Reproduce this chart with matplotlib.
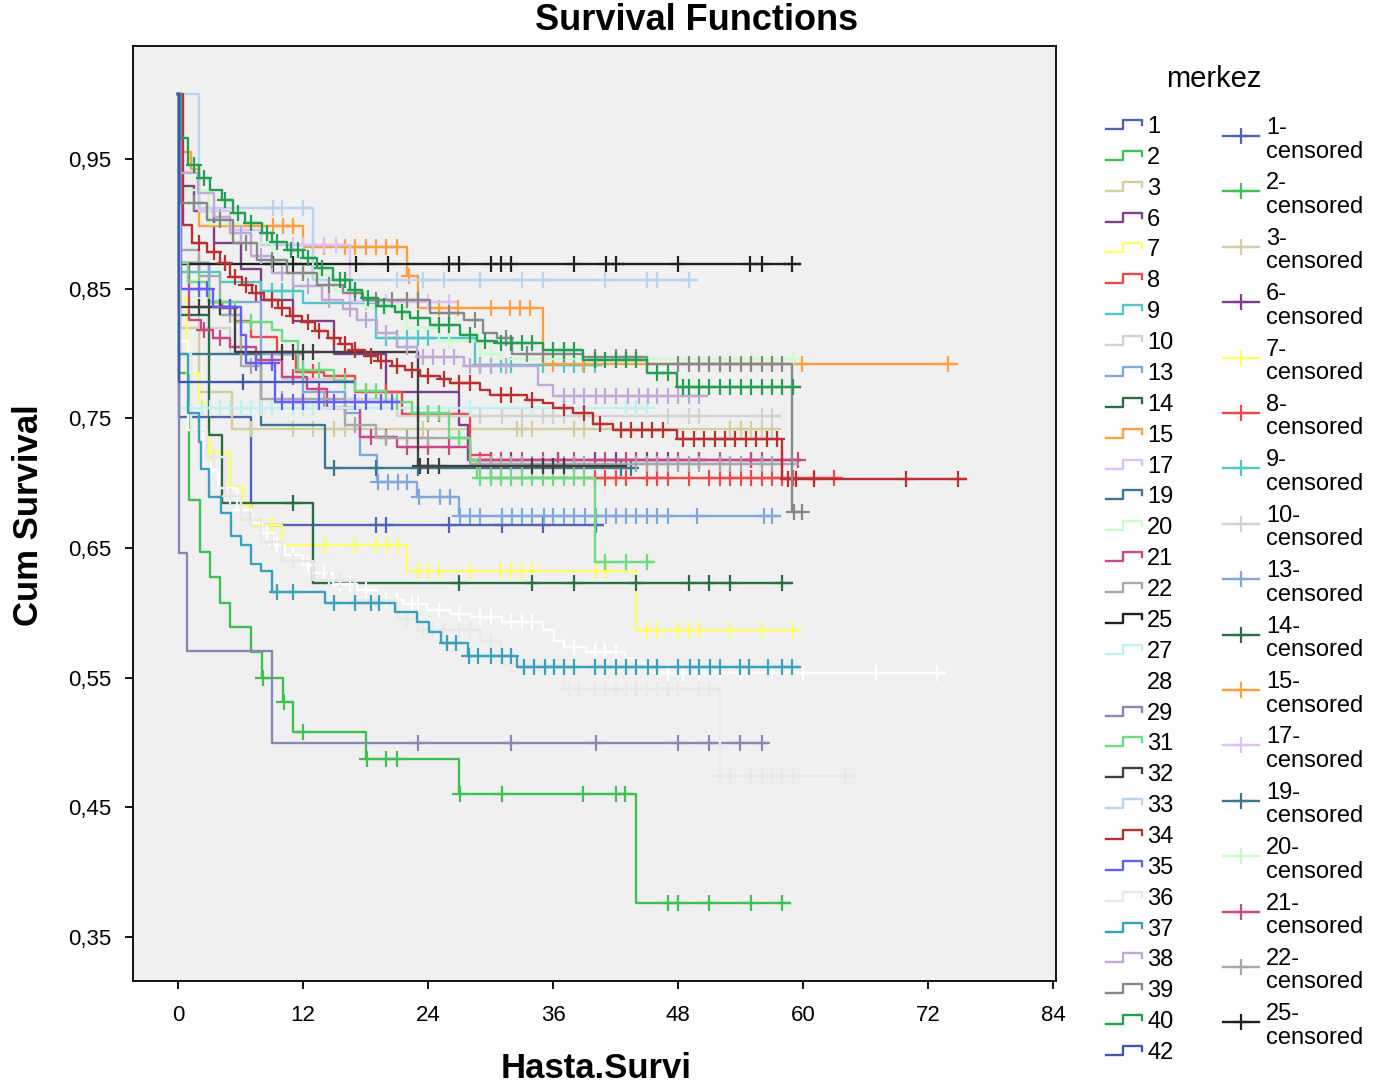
import numpy as np
import matplotlib.pyplot as plt
from matplotlib.lines import Line2D
from matplotlib.ticker import FuncFormatter

plt.rcParams['font.family'] = ['Liberation Sans', 'DejaVu Sans']

### centres and their colours (SPSS default cycle)
merkez = ['1', '2', '3', '6', '7', '8', '9', '10', '13', '14', '15', '17', '19', '20', '21', '22',
          '25', '27', '28', '29', '31', '32', '33', '34', '35', '36', '37', '38', '39', '40', '42']
colors = ['#5064b4', '#40c050', '#d4cfa0', '#7f3f8f', '#ffff66', '#f04848', '#50c8c8', '#d2d2d2',
          '#80a8dc', '#2a6e44', '#ffa040', '#e0c0f8', '#3a7890', '#c8ffc8', '#c84888', '#a8a8a8',
          '#202020', '#c0f0f0', '#ffffff', '#8888b8', '#6cdc80', '#404040', '#b8d4f0', '#b83030',
          '#6060ff', '#e8e8e8', '#3aa0c0', '#c0a8d8', '#888888', '#20a050', '#4058b0']

### event times, survival after each event, last follow-up, censored times (months)
t1 = [0.1, 7.0]
s1 = [0.751, 0.668]
end1 = 40.7
c1 = [19.0, 20.0, 26.0, 31.1, 35.0, 40.1]

t2 = [0.1, 1.06, 2.1, 3.1, 4.0, 5.0, 7.0, 8.1, 10.1, 11.0, 18.0, 27.0, 44.0]
s2 = [0.785, 0.687, 0.647, 0.628, 0.608, 0.589, 0.570, 0.550, 0.531, 0.508, 0.487, 0.460, 0.376]
end2 = 58.7
c2 = [8.2, 10.2, 12.0, 18.1, 20.0, 21.0, 27.1, 31.1, 38.9, 42.0, 42.9, 47.0, 48.0, 51.0, 55.0, 58.0]

t3 = [0.2, 2.0, 5.2]
s3 = [0.82, 0.77, 0.742]
end3 = 57.8
c3 = [7.0, 11.0, 13.0, 15.0, 16.0, 23.5, 32.5, 33.0, 34.0, 38.0, 39.0, 53.0, 54.0, 55.0, 56.0, 57.0]

t6 = [0.2, 1.5, 3.5, 6.0, 8.0, 11.0, 15.0, 20.0, 27.0, 27.8]
s6 = [0.929, 0.91, 0.885, 0.865, 0.841, 0.825, 0.80, 0.77, 0.745, 0.718]
end6 = 59.7
c6 = [30.0, 32.0, 36.5, 40.0, 42.0, 45.0, 47.0, 50.0, 55.0]

t7 = [0.1, 0.9, 2.0, 3.0, 5.0, 6.2, 7.0, 10.0, 22.0, 44.0]
s7 = [0.843, 0.785, 0.762, 0.723, 0.697, 0.683, 0.668, 0.652, 0.632, 0.587]
end7 = 59.7
c7 = [3.2, 8.0, 9.0, 14.1, 17.0, 19.0, 20.1, 21.1, 23.0, 24.0, 25.0, 28.0, 31.0, 32.0, 33.0, 34.0,
      40.1, 41.1, 45.0, 46.0, 48.0, 49.0, 50.0, 53.0, 56.0, 59.0]

t8 = [0.2, 3.0, 4.2, 5.5, 7.0, 9.5, 11.3, 14.0, 17.0, 21.5, 28.0, 30.0]
s8 = [0.87, 0.84, 0.835, 0.825, 0.813, 0.80, 0.786, 0.783, 0.77, 0.753, 0.722, 0.704]
end8 = 63.7
c8 = [2.0, 5.0, 10.0, 13.0, 16.0, 18.0, 20.0, 23.0, 24.0, 25.0, 40.0, 41.0, 42.0, 43.0, 45.0, 46.0,
      47.0, 49.0, 51.0, 52.0, 53.0, 54.0, 55.0, 56.0, 57.0, 58.0, 59.0, 61.0, 63.0]

t9 = [0.2, 4.0, 8.0, 12.0, 19.0, 28.5]
s9 = [0.863, 0.855, 0.848, 0.839, 0.812, 0.791]
end9 = 40.5
c9 = [9.0, 10.0, 11.0, 20.0, 21.0, 22.0, 23.0, 24.0, 29.0, 30.0, 31.0, 32.0, 35.0, 37.0, 38.0, 39.0, 40.0]

t10 = [0.2, 2.0, 5.0, 10.0, 16.0, 21.0]
s10 = [0.85, 0.82, 0.80, 0.78, 0.765, 0.752]
end10 = 57.8
c10 = [26.0, 29.0, 31.1, 33.0, 35.0, 36.0, 37.0, 47.0, 49.0, 50.0, 56.0, 57.0]

t13 = [0.2, 3.0, 8.0, 12.0, 16.0, 17.5, 19.1, 22.9, 27.0]
s13 = [0.87, 0.84, 0.80, 0.77, 0.754, 0.722, 0.701, 0.689, 0.675]
end13 = 57.8
c13 = [19.2, 20.2, 21.1, 22.0, 23.1, 25.1, 26.1, 27.1, 28.0, 29.0, 31.1, 32.1, 33.0, 34.0, 35.1, 36.0,
       37.0, 38.0, 39.1, 40.1, 41.1, 42.0, 43.0, 44.0, 45.0, 46.0, 47.0, 49.8, 56.2, 57.0]

t14 = [0.2, 3.0, 4.2, 13.0]
s14 = [0.83, 0.737, 0.685, 0.623]
end14 = 58.9
c14 = [11.0, 27.0, 34.0, 38.0, 44.0, 49.0, 51.0, 53.0, 58.0]

t15 = [0.2, 1.2, 2.0, 12.0, 22.0, 23.0, 35.0]
s15 = [0.955, 0.942, 0.898, 0.882, 0.860, 0.835, 0.792]
end15 = 74.8
c15 = [9.1, 10.1, 11.0, 13.0, 14.0, 16.0, 17.0, 18.0, 19.0, 20.0, 21.0, 22.2, 25.0, 26.9, 30.0, 31.9,
       32.8, 33.8, 36.0, 38.9, 45.0, 52.0, 55.0, 57.0, 59.9, 73.9]

t17 = [0.2, 2.0, 5.0, 8.0, 16.5]
s17 = [0.94, 0.91, 0.895, 0.884, 0.84]
end17 = 26.5
c17 = [11.0, 12.0, 13.0, 14.0, 15.2, 18.0, 20.0, 22.0, 24.0, 26.0]

t19 = [0.2, 8.0, 14.1]
s19 = [0.80, 0.745, 0.712]
end19 = 43.8
c19 = [15.0, 19.0, 23.0, 42.5, 43.5]

t20 = [0.2, 3.0, 6.0, 9.0, 12.0, 15.0, 18.0, 22.0, 25.0, 29.0, 31.0]
s20 = [0.926, 0.90, 0.885, 0.87, 0.86, 0.848, 0.836, 0.82, 0.81, 0.80, 0.796]
end20 = 59.7
c20 = [2.0, 5.0, 7.0, 10.0, 13.5, 17.0, 20.0, 26.0, 30.0, 45.0, 53.0, 55.0, 57.0, 59.0]

t21 = [0.2, 1.1, 2.2, 3.4, 5.0, 7.5, 10.0, 12.4, 14.3, 17.5, 21.0, 28.0]
s21 = [0.87, 0.826, 0.818, 0.812, 0.805, 0.795, 0.782, 0.773, 0.758, 0.736, 0.728, 0.718]
end21 = 59.7
c21 = [2.5, 4.0, 6.0, 9.0, 11.0, 13.5, 16.0, 18.5, 20.0, 22.0, 24.0, 26.0, 29.0, 31.0, 33.0, 35.0,
       36.5, 38.0, 41.0, 43.0, 44.0, 46.0, 48.0, 50.0, 52.0, 55.0, 56.0, 58.0, 59.5]

t22 = [0.3, 2.0, 4.0, 6.0, 8.0, 16.0, 19.0, 28.0]
s22 = [0.88, 0.86, 0.83, 0.79, 0.765, 0.745, 0.735, 0.715]
end22 = 59.5
c22 = [5.0, 7.0, 10.0, 12.0, 14.0, 17.0, 20.0, 22.0, 24.0, 29.0, 30.0, 31.0, 32.0, 33.0, 34.0, 35.0,
       37.0, 38.0, 39.0, 44.0, 45.0, 46.0, 47.0, 48.0, 49.0, 50.0, 52.0, 53.0, 54.0, 56.0, 57.0]

t25 = [0.1]
s25 = [0.869]
end25 = 59.7
c25 = [9.1, 11.0, 13.0, 17.1, 20.2, 26.0, 27.0, 30.0, 31.0, 32.0, 38.0, 41.1, 42.0, 48.0, 54.9, 56.0, 58.9]

t27 = [0.1]
s27 = [0.758]
end27 = 45.6
c27 = [1.0, 2.3, 3.1, 4.0, 5.0, 6.0, 7.0, 8.0, 9.0, 11.0, 12.0, 13.0, 28.0, 34.0, 43.0, 44.0, 45.0]

t28 = [0.1, 1.0, 2.4, 3.8, 5.7, 7.1, 8.1, 9.1, 10.3, 12.0, 13.0, 14.9, 17.2, 19.1, 21.6, 23.9, 26.1,
       28.1, 31.1, 35.0, 36.1, 37.0, 39.2, 42.9, 44.0, 45.3]
s28 = [0.810, 0.741, 0.710, 0.696, 0.679, 0.669, 0.662, 0.652, 0.645, 0.637, 0.631, 0.622, 0.618,
       0.610, 0.607, 0.602, 0.599, 0.597, 0.593, 0.587, 0.578, 0.574, 0.570, 0.565, 0.561, 0.554]
end28 = 73.6
c28 = [2.0, 3.2, 4.5, 6.0, 8.5, 9.5, 11.0, 12.5, 14.0, 15.5, 16.5, 18.0, 20.0, 21.0, 22.5, 23.0, 25.0,
       27.0, 29.0, 30.0, 32.0, 33.0, 34.0, 38.0, 40.0, 41.0, 42.0, 46.0, 47.0, 48.5, 50.0, 52.0, 54.0,
       57.0, 60.0, 67.0, 72.8]

t29 = [0.1, 0.9, 9.0]
s29 = [0.646, 0.571, 0.500]
end29 = 56.5
c29 = [23.0, 32.0, 40.1, 48.0, 51.0, 53.9, 56.0]

t31 = [0.2, 1.0, 3.0, 5.5, 9.0, 10.0, 11.5, 15.0, 17.0, 20.0, 22.5, 26.0, 28.0, 28.7, 40.0]
s31 = [0.87, 0.855, 0.84, 0.824, 0.818, 0.810, 0.787, 0.779, 0.771, 0.763, 0.754, 0.735, 0.718, 0.704, 0.639]
end31 = 45.6
c31 = [2.0, 4.0, 7.0, 12.0, 13.5, 16.0, 18.0, 19.0, 21.0, 23.0, 24.0, 25.0, 27.0, 29.0, 30.0, 31.0,
       32.0, 33.0, 34.0, 35.0, 36.0, 37.0, 38.0, 39.0, 41.0, 43.0, 45.0]

t32 = [0.1, 5.5, 23.0]
s32 = [0.836, 0.801, 0.713]
end32 = 43.0
c32 = [2.0, 3.0, 4.0, 5.0, 10.0, 11.0, 12.0, 13.0, 23.2, 24.0, 25.0, 34.0, 35.0, 36.0, 37.0]

t33 = [2.0, 13.0]
s33 = [0.912, 0.857]
end33 = 49.8
c33 = [9.1, 10.0, 12.0, 21.0, 23.5, 25.5, 29.0, 33.0, 35.0, 41.0, 45.0, 46.0, 49.0]

t34 = [0.5, 1.3, 2.8, 4.0, 5.0, 6.1, 7.1, 8.3, 9.6, 10.7, 11.9, 13.1, 14.4, 15.5, 16.7, 17.9, 19.2,
       20.5, 21.8, 23.2, 25.1, 26.1, 29.0, 29.9, 33.5, 35.0, 36.0, 37.9, 39.8, 41.7, 47.9, 58.0]
s34 = [0.899, 0.885, 0.878, 0.870, 0.859, 0.853, 0.847, 0.841, 0.835, 0.829, 0.824, 0.817, 0.812,
       0.807, 0.803, 0.798, 0.794, 0.790, 0.787, 0.783, 0.780, 0.777, 0.772, 0.768, 0.764, 0.762,
       0.758, 0.754, 0.746, 0.741, 0.734, 0.703]
end34 = 75.6
c34 = [2.0, 3.5, 4.5, 5.5, 6.5, 7.5, 9.0, 10.0, 11.0, 12.5, 13.5, 15.0, 16.0, 17.0, 18.5, 19.5, 21.0,
       22.5, 24.0, 25.5, 27.0, 28.0, 31.0, 32.0, 34.0, 37.0, 39.0, 40.5, 42.5, 43.5, 44.5, 45.5, 46.5,
       48.5, 49.5, 50.5, 51.5, 52.5, 53.5, 54.5, 55.5, 56.5, 57.5, 58.5, 59.3, 61.0, 69.9, 74.9]

t35 = [0.3, 3.4, 6.0, 6.5, 9.3]
s35 = [0.85, 0.836, 0.814, 0.793, 0.763]
end35 = 21.2
c35 = [2.0, 2.8, 5.0, 7.5, 9.0, 10.0, 11.0, 12.0, 13.5, 15.0, 17.0, 18.0, 19.5, 20.5]

t36 = [0.2, 1.2, 2.8, 4.5, 6.0, 8.0, 10.0, 13.0, 17.0, 21.0, 23.0, 29.0, 31.0, 37.0, 52.0]
s36 = [0.80, 0.74, 0.72, 0.69, 0.672, 0.655, 0.64, 0.625, 0.61, 0.595, 0.587, 0.578, 0.56, 0.541, 0.474]
end36 = 64.7
c36 = [3.5, 5.0, 7.0, 9.0, 11.0, 14.5, 15.5, 19.0, 22.0, 23.5, 24.5, 25.5, 27.0, 28.0, 30.0, 32.0,
       33.0, 37.5, 38.5, 40.0, 41.0, 42.0, 43.0, 44.0, 45.0, 46.0, 47.0, 48.0, 50.0, 51.0, 52.0, 53.0,
       55.0, 56.0, 57.0, 58.0, 59.0, 64.0]

t37 = [0.1, 1.0, 2.0, 2.2, 3.0, 4.1, 5.1, 6.0, 7.0, 8.0, 9.0, 14.1, 20.8, 22.9, 24.1, 25.2, 27.8, 32.5]
s37 = [0.80, 0.754, 0.732, 0.711, 0.689, 0.677, 0.659, 0.652, 0.638, 0.632, 0.616, 0.608, 0.601,
       0.593, 0.585, 0.577, 0.567, 0.558]
end37 = 59.7
c37 = [9.5, 11.0, 15.0, 17.0, 18.5, 19.3, 25.8, 26.7, 27.9, 28.8, 30.0, 31.1, 32.0, 33.2, 34.2, 35.2,
       36.1, 37.0, 38.0, 40.0, 41.0, 42.0, 43.0, 44.0, 45.1, 46.0, 48.0, 49.1, 50.0, 51.1, 52.0, 53.9,
       54.8, 56.6, 58.0, 58.9]

t38 = [0.2, 1.9, 3.5, 5.0, 7.0, 9.0, 11.0, 13.8, 15.8, 17.2, 19.1, 21.0, 22.9, 27.4, 34.5, 36.0]
s38 = [0.939, 0.924, 0.905, 0.893, 0.875, 0.862, 0.852, 0.841, 0.834, 0.826, 0.816, 0.805, 0.797,
       0.790, 0.776, 0.767]
end38 = 50.8
c38 = [4.0, 6.0, 8.0, 10.0, 12.5, 14.5, 16.5, 18.0, 20.0, 22.0, 23.5, 24.5, 25.5, 26.5, 28.0, 29.0,
       30.0, 31.5, 37.0, 38.0, 39.0, 40.1, 41.0, 42.0, 43.2, 44.2, 45.1, 46.0, 47.0, 48.0, 49.0, 50.0]

t39 = [0.2, 2.8, 5.3, 7.6, 10.5, 13.3, 15.8, 17.8, 24.2, 27.4, 29.3, 30.6, 32.1, 38.9, 45.0, 58.9]
s39 = [0.916, 0.903, 0.885, 0.872, 0.862, 0.853, 0.847, 0.841, 0.831, 0.826, 0.816, 0.812, 0.800,
       0.797, 0.792, 0.678]
end39 = 59.9
c39 = [1.5, 4.0, 6.5, 9.0, 12.0, 14.5, 17.0, 19.0, 20.5, 22.0, 23.0, 26.0, 28.5, 31.5, 33.5, 35.0,
       37.0, 40.0, 42.0, 43.0, 44.0, 48.0, 49.0, 50.0, 51.0, 52.0, 53.0, 54.0, 55.0, 56.0, 57.0, 58.0,
       59.1, 59.9]

t40 = [0.2, 1.0, 2.0, 3.1, 4.2, 5.3, 6.4, 8.1, 9.0, 10.5, 12.0, 13.3, 14.9, 16.5, 17.7, 19.2, 20.8,
       22.3, 24.2, 27.1, 28.7, 30.6, 35.0, 38.9, 45.0, 47.9]
s40 = [0.966, 0.945, 0.935, 0.926, 0.918, 0.908, 0.901, 0.893, 0.886, 0.880, 0.874, 0.866, 0.857,
       0.849, 0.843, 0.837, 0.832, 0.827, 0.822, 0.814, 0.810, 0.808, 0.803, 0.795, 0.785, 0.774]
end40 = 59.7
c40 = [1.5, 2.5, 4.5, 5.8, 7.0, 8.5, 9.5, 10.8, 11.5, 12.5, 13.8, 15.5, 16.0, 17.0, 18.2, 19.8, 21.5,
       23.0, 25.0, 26.0, 28.0, 29.5, 31.0, 32.0, 33.0, 34.0, 36.0, 37.0, 38.0, 40.0, 41.0, 42.0, 43.0,
       44.0, 46.0, 47.0, 48.5, 49.0, 50.0, 51.0, 52.0, 53.0, 54.0, 55.0, 56.0, 57.0, 58.0, 59.0]

t42 = [0.1]
s42 = [0.778]
end42 = 16.8
c42 = [6.2]

times = [t1, t2, t3, t6, t7, t8, t9, t10, t13, t14, t15, t17, t19, t20, t21, t22,
         t25, t27, t28, t29, t31, t32, t33, t34, t35, t36, t37, t38, t39, t40, t42]
survs = [s1, s2, s3, s6, s7, s8, s9, s10, s13, s14, s15, s17, s19, s20, s21, s22,
         s25, s27, s28, s29, s31, s32, s33, s34, s35, s36, s37, s38, s39, s40, s42]
ends = [end1, end2, end3, end6, end7, end8, end9, end10, end13, end14, end15, end17, end19, end20,
        end21, end22, end25, end27, end28, end29, end31, end32, end33, end34, end35, end36, end37,
        end38, end39, end40, end42]
cens = [c1, c2, c3, c6, c7, c8, c9, c10, c13, c14, c15, c17, c19, c20, c21, c22,
        c25, c27, c28, c29, c31, c32, c33, c34, c35, c36, c37, c38, c39, c40, c42]

W, H = 1373, 1088
def fx(px):
    return px / W
def fy(py):
    return 1 - py / H

fig = plt.figure(figsize=(W / 100, H / 100), dpi=100)
ax = fig.add_axes([fx(133), fy(981), (1056 - 133) / W, (981 - 46) / H])
ax.set_facecolor('#f0f0f0')

for k in range(len(merkez)):
    x = np.r_[0.0, times[k], ends[k]]
    y = np.r_[1.0, survs[k], survs[k][-1]]
    ax.step(x, y, where='post', color=colors[k], lw=1.7, zorder=2)
    c = np.array(cens[k])
    idx = np.searchsorted(times[k], c, side='right')
    yc = np.r_[1.0, survs[k]][idx]
    ax.plot(c, yc, ls='none', marker='+', ms=12, mew=1.6, color=colors[k], zorder=2)

ax.set_xlim(-4.32, 84.26)
ax.set_ylim(0.3162, 1.0371)
ax.set_xticks(range(0, 85, 12))
ax.set_yticks([0.35, 0.45, 0.55, 0.65, 0.75, 0.85, 0.95])
ax.yaxis.set_major_formatter(FuncFormatter(lambda v, p: f'{v:.2f}'.replace('.', ',')))
ax.tick_params(direction='out', length=6, width=1.3, labelsize=16, colors='black')
ax.tick_params(axis='y', pad=9.5)
ax.tick_params(axis='x', pad=11)
for sp in ax.spines.values():
    sp.set_linewidth(1.3)

fig.text(fx(697), fy(20), 'Survival Functions', ha='center', va='center', fontsize=26, fontweight='bold')
fig.text(fx(596), fy(1069), 'Hasta.Survi', ha='center', va='center', fontsize=25, fontweight='bold')
fig.text(fx(29), fy(515), 'Cum Survival', ha='center', va='center', rotation=90, fontsize=25,
         fontweight='bold')

### legend, drawn by hand the way SPSS lays it out (two columns, cut at the bottom)
fig.text(fx(1214), fy(79), 'merkez', ha='center', va='center', fontsize=21)
for i, (name, col) in enumerate(zip(merkez, colors)):
    yc = 127 + i * 30.87
    fig.add_artist(Line2D([fx(1106), fx(1123), fx(1123), fx(1142), fx(1142)],
                          [fy(yc + 2), fy(yc + 2), fy(yc - 7), fy(yc - 7), fy(yc - 2)],
                          color=col, lw=1.7, transform=fig.transFigure))
    fig.text(fx(1147), fy(yc), name, va='center', fontsize=17)

for j, (name, col) in enumerate(zip(merkez, colors)):
    yt = 128 + j * 55.4
    if yt + 35 > H:
        break
    fig.add_artist(Line2D([fx(1223), fx(1259)], [fy(yt + 8), fy(yt + 8)], color=col, lw=1.7,
                          transform=fig.transFigure))
    fig.add_artist(Line2D([fx(1241)], [fy(yt + 8)], marker='+', ms=12, mew=1.6, color=col,
                          transform=fig.transFigure))
    fig.text(fx(1266), fy(yt), name + '-', va='center', fontsize=17)
    fig.text(fx(1266), fy(yt + 23.5), 'censored', va='center', fontsize=17)

fig.savefig('out.png', dpi=100)
